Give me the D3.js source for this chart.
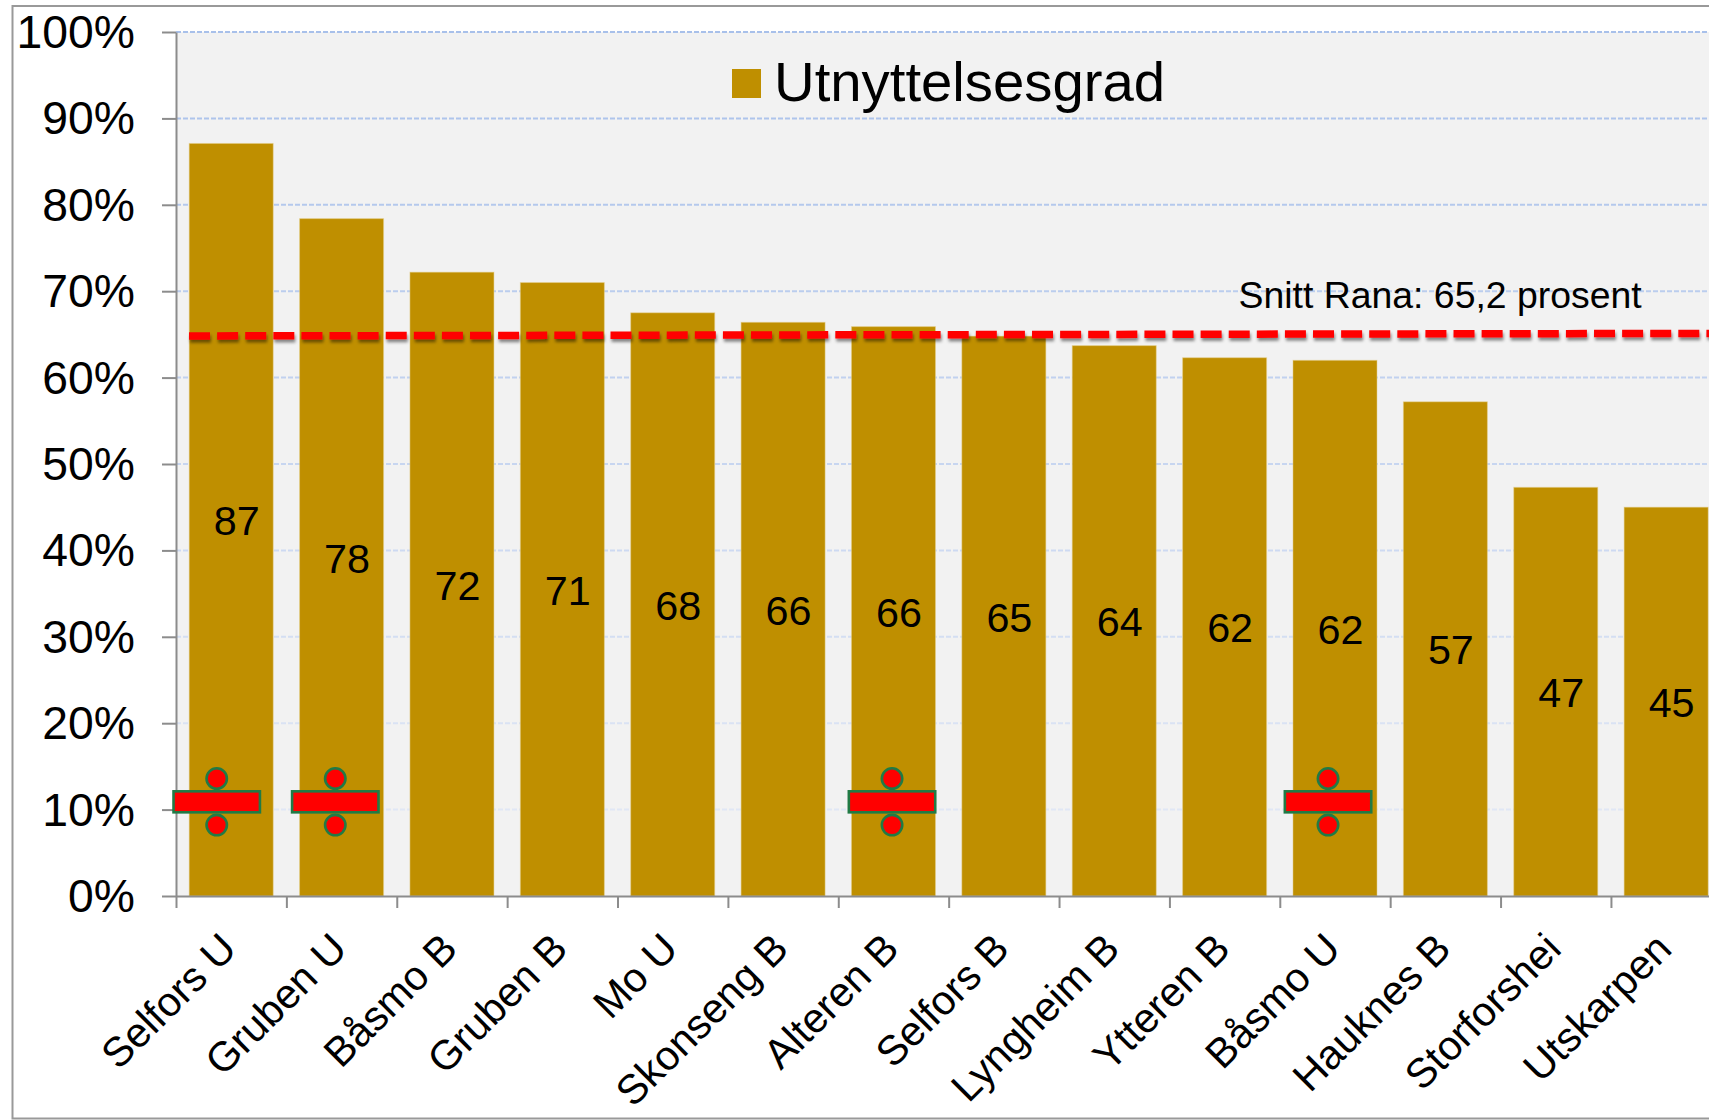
<!DOCTYPE html>
<html><head><meta charset="utf-8">
<script src="https://cdn.jsdelivr.net/npm/d3@7"></script>
<style>html,body{margin:0;padding:0;background:#fff}svg{display:block}text{font-family:"Liberation Sans",Arial,sans-serif;fill:#000}</style>
</head><body><div id="chart"></div>
<script>
const categories = ["Selfors U","Gruben U","Båsmo B","Gruben B","Mo U","Skonseng B","Alteren B","Selfors B","Lyngheim B","Ytteren B","Båsmo U","Hauknes B","Storforshei","Utskarpen"];
const utilisation = [87.1,78.4,72.2,71.0,67.5,66.4,65.9,64.8,63.7,62.3,62.0,57.2,47.3,45.0];
const yTicks = [0,10,20,30,40,50,60,70,80,90,100];
const legendLabel = "Utnyttelsesgrad";
const averageLabel = "Snitt Rana: 65,2 prosent";
const averageLineX = [0.118, 14];
const averageLineY = [64.82, 65.12];
const dividerX = [0.369, 1.443, 6.487, 10.437];
const dividerY = 10.9;

const W = 1709, H = 1120, left = 176, top0 = 32, bottom0 = 896, step = 110.38;
const barColor = "#bf8f00", axisColor = "#8c8c8c", green = "#217a45";

const svg = d3.select("#chart").append("svg").attr("width", W).attr("height", H);
const defs = svg.append("defs");
const grad = defs.append("linearGradient").attr("id","gridGrad").attr("gradientUnits","userSpaceOnUse")
  .attr("x1",0).attr("x2",0).attr("y1",top0).attr("y2",bottom0);
grad.append("stop").attr("offset",0).attr("stop-color","#a8c0ea");
grad.append("stop").attr("offset",1).attr("stop-color","#e6ebf6");
const f = defs.append("filter").attr("id","shadow").attr("filterUnits","userSpaceOnUse")
  .attr("x",0).attr("y",300).attr("width",W+40).attr("height",60);
f.append("feDropShadow").attr("dx",1).attr("dy",3).attr("stdDeviation",1.5).attr("flood-color","#000").attr("flood-opacity",0.45);

const x = d3.scaleBand().domain(categories).range([left, left + step*categories.length]).paddingInner(0.239).paddingOuter(0.1195);
const xIndex = d3.scaleLinear().domain([0, categories.length]).range([left, left + step*categories.length]);
const y = d3.scaleLinear().domain([0,100]).range([bottom0, top0]);

svg.append("rect").attr("x",12.5).attr("y",6).attr("width",W+20).attr("height",1112.5).attr("fill","#fff").attr("stroke","#999").attr("stroke-width",2);
svg.append("rect").attr("x",left).attr("y",top0).attr("width",W-left).attr("height",bottom0-top0).attr("fill","#f2f2f2");

svg.append("g").selectAll("line").data(yTicks.filter(d=>d>0)).join("line")
  .attr("x1",left).attr("x2",W).attr("y1",d=>y(d)+0.01).attr("y2",d=>y(d))
  .attr("stroke","url(#gridGrad)").attr("stroke-width",2).attr("stroke-dasharray","5 2");

svg.append("g").selectAll("rect").data(categories).join("rect")
  .attr("x",d=>x(d)).attr("width",x.bandwidth())
  .attr("y",(d,i)=>y(utilisation[i])).attr("height",(d,i)=>y(0)-y(utilisation[i]))
  .attr("fill",barColor).attr("stroke","#e6d08a").attr("stroke-opacity",0.5).attr("stroke-width",1);

// axes
const yAxis = svg.append("g").attr("transform",`translate(${left},0)`)
  .call(d3.axisLeft(y).tickValues(yTicks).tickSize(14).tickSizeOuter(0).tickPadding(27).tickFormat(d=>d+"%"));
yAxis.selectAll("path,line").attr("stroke",axisColor).attr("stroke-width",2);
yAxis.selectAll("text").attr("font-size",46.3).attr("dy",null).attr("y",15.5).style("font-family",'"Liberation Sans"').attr("fill","#000");
yAxis.attr("font-family",null);

const xTicks = svg.append("g").attr("transform",`translate(0,${bottom0})`)
  .call(d3.axisBottom(xIndex).tickValues(d3.range(categories.length)).tickSize(12).tickSizeOuter(0).tickFormat(""));
xTicks.selectAll("path,line").attr("stroke",axisColor).attr("stroke-width",2);

// category labels
svg.append("g").selectAll("text").data(categories).join("text")
  .attr("text-anchor","end").attr("font-size",41.3)
  .attr("transform",d=>`translate(${x(d)+x.bandwidth()/2+7.5},${bottom0+55}) rotate(-45)`)
  .text(d=>d);

// average line
svg.append("line")
  .attr("x1",xIndex(averageLineX[0])).attr("x2",xIndex(averageLineX[1]))
  .attr("y1",y(averageLineY[0])).attr("y2",y(averageLineY[1]))
  .attr("stroke","#ff0000").attr("stroke-width",7.5).attr("stroke-dasharray","21 7.1").attr("filter","url(#shadow)");
svg.append("text").attr("x",1238.5).attr("y",308).attr("font-size",37.4).text(averageLabel);

// value labels
svg.append("g").selectAll("text").data(categories).join("text")
  .attr("text-anchor","middle").attr("font-size",41.3)
  .attr("x",d=>x(d)+x.bandwidth()/2+5.5)
  .attr("y",(d,i)=>(y(utilisation[i])+y(0))/2+15.5)
  .text((d,i)=>Math.round(utilisation[i]));

// legend
svg.append("rect").attr("x",732).attr("y",69).attr("width",29).attr("height",29).attr("fill",barColor);
svg.append("text").attr("x",774).attr("y",101).attr("font-size",56.3).text(legendLabel);

// division signs
const dg = svg.append("g").selectAll("g").data(dividerX).join("g")
  .attr("transform",d=>`translate(${xIndex(d)},${y(dividerY)})`)
  .attr("fill","#ff0000").attr("stroke",green).attr("stroke-width",2.6);
dg.append("rect").attr("x",-43.2).attr("y",-10.5).attr("width",86.4).attr("height",21);
dg.append("circle").attr("cy",-23.3).attr("r",10.2);
dg.append("circle").attr("cy",23.3).attr("r",10.2);
</script></body></html>
